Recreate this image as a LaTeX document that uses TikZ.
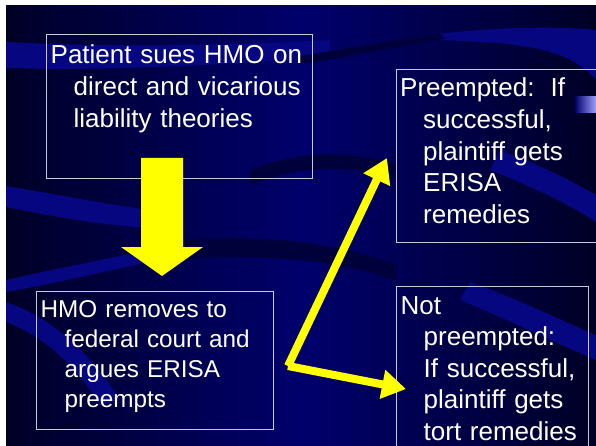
\documentclass[tikz,border=0pt]{standalone}
\usepackage{fontspec}
\setmainfont{Liberation Sans}
\usetikzlibrary{arrows.meta}
\definecolor{bgdark}{RGB}{0,0,38}
\definecolor{bgmid}{RGB}{0,0,108}
\definecolor{swlight}{RGB}{6,6,128}
\definecolor{swdark}{RGB}{0,0,58}
\definecolor{boxline}{RGB}{200,200,215}
\definecolor{arrowyellow}{RGB}{255,255,0}
\definecolor{swatchlight}{RGB}{160,160,255}
\newcommand{\ind}{\hspace*{23pt}}
\begin{document}
\begin{tikzpicture}[x=1pt,y=-1pt,
  box/.style={draw=boxline, line width=0.9pt, anchor=north west, inner sep=0pt},
  txt/.style={text=white, inner sep=0pt, anchor=base west, text width=260pt, align=left, font=\fontsize{26}{32}\selectfont},
  yarrow/.style={draw=arrowyellow, line width=8pt, -{Triangle[length=24pt,width=28pt]}},
  ]
\useasboundingbox (0,0) rectangle (596,446);
\fill[white] (0,0) rectangle (596,446);
\begin{scope}
\clip (6,6) rectangle (596,446);
\shade[left color=bgdark, right color=bgdark, middle color=bgmid] (6,6) rectangle (596,446);
% swooshes
\fill[swlight] (6,42) .. controls (120,48) and (250,45) .. (330,40) -- (330,58) .. controls (250,62) and (120,72) .. (6,68) -- cycle;
\fill[swlight] (430,35) .. controls (490,27) and (560,26) .. (596,30) -- (596,80) .. controls (578,58) and (545,45) .. (480,42) .. controls (460,41) and (445,40) .. (430,40) -- cycle;
\fill[swdark] (300,56) .. controls (350,48) and (400,39) .. (440,34) -- (445,39) .. controls (400,45) and (350,58) .. (300,64) -- cycle;
\fill[swlight] (6,186) .. controls (60,195) and (110,205) .. (150,210) -- (150,228) .. controls (100,225) and (50,216) .. (6,207) -- cycle;
\fill[swlight] (6,280) .. controls (50,270) and (100,260) .. (150,250) -- (150,262) .. controls (100,272) and (50,285) .. (6,292) -- cycle;
\fill[swlight] (6,302) .. controls (45,315) and (85,345) .. (120,400) -- (100,405) .. controls (72,360) and (40,335) .. (6,322) -- cycle;
\fill[swdark] (180,240) .. controls (260,235) and (330,240) .. (396,265) -- (396,280) .. controls (330,258) and (260,255) .. (180,258) -- cycle;
\fill[swdark] (250,170) .. controls (300,150) and (350,150) .. (396,165) -- (396,178) .. controls (350,165) and (300,165) .. (250,185) -- cycle;
\fill[swlight] (500,150) .. controls (540,165) and (570,180) .. (596,195) -- (596,222) .. controls (570,205) and (540,190) .. (490,170) -- cycle;
\fill[swlight] (470,282) .. controls (520,300) and (560,320) .. (596,335) -- (596,360) .. controls (560,345) and (520,325) .. (460,300) -- cycle;
\shade[left color=bgmid, right color=swatchlight] (575,97) rectangle (596,113);
% boxes
\node[box, minimum width=266pt, minimum height=144pt] (b1) at (46,34) {};
\node[box, minimum width=237pt, minimum height=138pt] (b2) at (36,291) {};
\node[box, minimum width=215pt, minimum height=173pt] (b3) at (396,69) {};
\node[box, minimum width=192pt, minimum height=185pt] (b4) at (396,286) {};
\end{scope}
% texts
\node[txt] (t1) at (50.5,63.5) {Patient sues HMO on\\ \ind direct and vicarious\\ \ind liability theories};
\node[txt, font=\fontsize{24.3}{30.3}\selectfont] (t2) at (40.5,317) {HMO removes to\\ \hspace*{24pt}federal court and\\ \hspace*{24pt}argues ERISA\\ \hspace*{24pt}preempts};
\node[txt, font=\fontsize{26}{31.6}\selectfont] (t3) at (400,97) {Preempted:\hspace{16pt}If\\ \ind successful,\\ \ind plaintiff gets\\ \ind ERISA\\ \ind remedies};
\node[txt, font=\fontsize{26}{31.6}\selectfont] (t4) at (400.5,314) {Not\\ \ind preempted:\\ \ind If successful,\\ \ind plaintiff gets\\ \ind tort remedies};
% big down arrow
\fill[arrowyellow] (141,158) -- (183,158) -- (183,247) -- (203,247) -- (162,276) -- (121,247) -- (141,247) -- cycle;
% split arrows
\coordinate (split) at (288,366);
\coordinate (tipA) at (387,158);
\coordinate (tipB) at (406,389);
\draw[yarrow] (split) -- (tipA);
\draw[yarrow] (split) -- (tipB);
\end{tikzpicture}
\end{document}
